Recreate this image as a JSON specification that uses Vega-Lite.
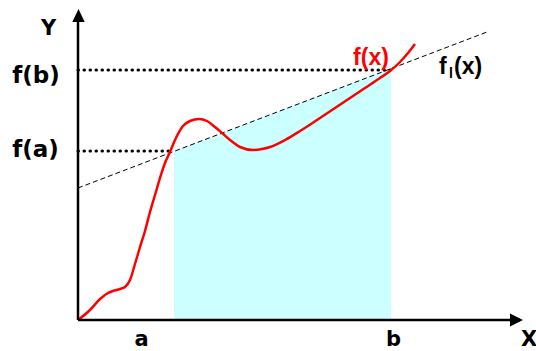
{
  "$schema": "https://vega.github.io/schema/vega-lite/v6.json",
  "width": 458,
  "height": 320,
  "autosize": "none",
  "padding": {"left": 78, "top": 0, "right": 0, "bottom": 31},
  "background": "white",
  "config": {"view": {"stroke": null}},
  "datasets": {
    "curve": [
      {"x": 0, "y": 0}, {"x": 12, "y": 10}, {"x": 22, "y": 21}, {"x": 30, "y": 27}, {"x": 35, "y": 29},
      {"x": 42, "y": 31}, {"x": 47, "y": 33}, {"x": 52, "y": 40}, {"x": 57, "y": 56}, {"x": 62, "y": 73},
      {"x": 67, "y": 89}, {"x": 72, "y": 108}, {"x": 77, "y": 125}, {"x": 82, "y": 142}, {"x": 87, "y": 157},
      {"x": 92, "y": 168}, {"x": 97, "y": 180}, {"x": 105, "y": 194}, {"x": 112, "y": 199}, {"x": 121, "y": 201},
      {"x": 129, "y": 199}, {"x": 137, "y": 193}, {"x": 144, "y": 187}, {"x": 152, "y": 180}, {"x": 162, "y": 173},
      {"x": 175, "y": 170}, {"x": 184, "y": 171}, {"x": 192, "y": 173}, {"x": 207, "y": 180}, {"x": 222, "y": 189},
      {"x": 239, "y": 200}, {"x": 257, "y": 212}, {"x": 272, "y": 222}, {"x": 287, "y": 232}, {"x": 302, "y": 242},
      {"x": 312, "y": 249}, {"x": 322, "y": 258}, {"x": 330, "y": 267}, {"x": 337, "y": 276}
    ],
    "trap": [{"x": 96, "y": 168.6}, {"x": 313, "y": 251.4}],
    "secant": [{"x": 0, "y": 132}, {"x": 409, "y": 288}],
    "dots": [
      {"g": "a", "x": 0, "y": 169}, {"g": "a", "x": 96, "y": 169},
      {"g": "b", "x": 0, "y": 250}, {"g": "b", "x": 313, "y": 250}
    ],
    "axes": [{"x": 0, "y": 0, "x2": 0, "y2": 300}, {"x": 0, "y": 0, "x2": 436, "y2": 0}],
    "arrowUp": [{"x": 0.5, "y": 304.5}],
    "arrowRight": [{"x": 438.5, "y": 0}],
    "bigLabels": [
      {"t": "f(b)", "x": -42, "y": 237},
      {"t": "f(a)", "x": -42.5, "y": 163}
    ],
    "axisLabels": [
      {"t": "Y", "x": -29.5, "y": 285},
      {"t": "a", "x": 63.5, "y": -26},
      {"t": "b", "x": 315.5, "y": -26},
      {"t": "X", "x": 451, "y": -26}
    ],
    "fx": [{"t": "f(x)", "x": 293, "y": 255}],
    "fl": [{"t": "f", "x": 361, "y": 246}, {"t": "(x)", "x": 376, "y": 246}],
    "flsub": [{"t": "l", "x": 371, "y": 242}]
  },
  "encoding": {
    "x": {"field": "x", "type": "quantitative", "scale": {"domain": [0, 458], "nice": false, "zero": false}, "axis": null},
    "y": {"field": "y", "type": "quantitative", "scale": {"domain": [0, 320], "nice": false, "zero": false}, "axis": null}
  },
  "layer": [
    {
      "data": {"name": "trap"},
      "mark": {"type": "area", "color": "#ccffff", "opacity": 1},
      "encoding": {"y2": {"datum": 0}}
    },
    {
      "data": {"name": "secant"},
      "mark": {"type": "line", "color": "black", "strokeWidth": 1, "strokeDash": [5, 3]},
      "encoding": {}
    },
    {
      "data": {"name": "dots"},
      "mark": {"type": "line", "color": "black", "strokeWidth": 3, "strokeDash": [0.5, 5.5], "strokeCap": "round"},
      "encoding": {"detail": {"field": "g"}}
    },
    {
      "data": {"name": "curve"},
      "mark": {"type": "line", "color": "#ff0000", "strokeWidth": 2.5, "interpolate": "monotone"},
      "encoding": {}
    },
    {
      "data": {"name": "axes"},
      "mark": {"type": "rule", "color": "black", "strokeWidth": 2.5},
      "encoding": {"x2": {"field": "x2"}, "y2": {"field": "y2"}}
    },
    {
      "data": {"name": "arrowUp"},
      "mark": {"type": "point", "shape": "M-0.95,1L0.95,1L0,-1Z", "size": 169, "filled": true, "color": "black", "opacity": 1},
      "encoding": {}
    },
    {
      "data": {"name": "arrowRight"},
      "mark": {"type": "point", "shape": "M-1,-1L-1,1L1,0Z", "size": 169, "filled": true, "color": "black", "opacity": 1},
      "encoding": {}
    },
    {
      "data": {"name": "bigLabels"},
      "mark": {"type": "text", "font": "DejaVu Sans", "fontWeight": "bold", "fontSize": 23, "align": "center", "baseline": "alphabetic", "color": "black"},
      "encoding": {"text": {"field": "t"}}
    },
    {
      "data": {"name": "axisLabels"},
      "mark": {"type": "text", "font": "DejaVu Sans", "fontWeight": "bold", "fontSize": 21, "align": "center", "baseline": "alphabetic", "color": "black"},
      "encoding": {"text": {"field": "t"}}
    },
    {
      "data": {"name": "fx"},
      "mark": {"type": "text", "font": "Liberation Sans", "fontWeight": "bold", "fontSize": 23, "align": "center", "baseline": "alphabetic", "color": "#ff0000"},
      "encoding": {"text": {"field": "t"}}
    },
    {
      "data": {"name": "fl"},
      "mark": {"type": "text", "font": "Liberation Sans", "fontWeight": "bold", "fontSize": 23, "align": "left", "baseline": "alphabetic", "color": "black"},
      "encoding": {"text": {"field": "t"}}
    },
    {
      "data": {"name": "flsub"},
      "mark": {"type": "text", "font": "Liberation Sans", "fontWeight": "bold", "fontSize": 14, "align": "left", "baseline": "alphabetic", "color": "black"},
      "encoding": {"text": {"field": "t"}}
    }
  ]
}
